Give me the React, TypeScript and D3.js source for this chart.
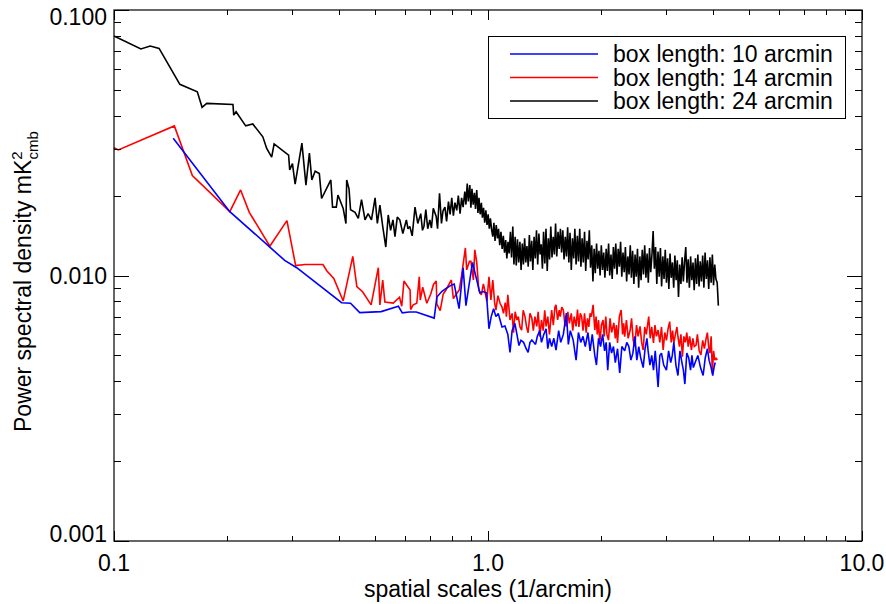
import React from 'react';
import * as d3 from 'd3';

// Axis ticks and labels
const X_MAJOR = [0.1, 1, 10];
const X_LABELS = ['0.1', '1.0', '10.0'];
const Y_MAJOR = [0.001, 0.01, 0.1];
const Y_LABELS = ['0.001', '0.010', '0.100'];

const SERIES_NAMES = ['box length: 10 arcmin', 'box length: 14 arcmin', 'box length: 24 arcmin'];
const SERIES_COLORS = ['#0000ff', '#ff0000', '#000000'];

// Power spectra: [spatial scale (1/arcmin), power (mK^2)]
const BLUE_10: [number, number][] = [
  [0.144, 0.0329], [0.204, 0.0174], [0.261, 0.0128], [0.286, 0.0114], [0.308, 0.0107],
  [0.406, 0.0079], [0.429, 0.00786], [0.454, 0.00725], [0.518, 0.00731], [0.576, 0.00766],
  [0.59, 0.00723], [0.616, 0.00729], [0.643, 0.00729], [0.718, 0.00691], [0.73, 0.0083],
  [0.752, 0.0087], [0.773, 0.00894], [0.798, 0.0092], [0.812, 0.00929], [0.837, 0.0075],
  [0.858, 0.0107], [0.873, 0.0077], [0.909, 0.0112], [0.951, 0.0086], [0.97, 0.0087],
  [0.99, 0.0086], [1.006, 0.0063], [1.02, 0.007], [1.035, 0.0075], [1.05, 0.007],
  [1.065, 0.0072], [1.09, 0.0064], [1.11, 0.00645], [1.13, 0.006], [1.145, 0.00513],
  [1.16, 0.0062], [1.18, 0.0066], [1.195, 0.006], [1.21, 0.00545], [1.225, 0.0057],
  [1.245, 0.0056], [1.265, 0.0053], [1.28, 0.00513], [1.295, 0.0056], [1.31, 0.00571],
  [1.325, 0.0056], [1.34, 0.0055], [1.355, 0.0059], [1.375, 0.0062], [1.39, 0.0056],
  [1.41, 0.006], [1.43, 0.0063], [1.445, 0.0053], [1.46, 0.0058], [1.48, 0.0054],
  [1.5, 0.0058], [1.52, 0.00524], [1.545, 0.0062], [1.565, 0.0056], [1.59, 0.006],
  [1.62, 0.00722], [1.64, 0.0055], [1.66, 0.0062], [1.69, 0.0057], [1.72, 0.0048],
  [1.745, 0.0061], [1.77, 0.0056], [1.795, 0.0059], [1.82, 0.0054], [1.85, 0.0061],
  [1.875, 0.0052], [1.9, 0.006], [1.93, 0.005], [1.95, 0.0046], [1.975, 0.0058],
  [2.0, 0.0054], [2.025, 0.006], [2.05, 0.0052], [2.07, 0.0056], [2.09, 0.0044],
  [2.115, 0.0056], [2.14, 0.0051], [2.165, 0.0054], [2.19, 0.0047], [2.22, 0.0053],
  [2.25, 0.0043], [2.28, 0.0054], [2.32, 0.0052], [2.35, 0.0056], [2.38, 0.0054],
  [2.41, 0.0048], [2.44, 0.0051], [2.47, 0.0059], [2.5, 0.0048], [2.53, 0.0054],
  [2.56, 0.0049], [2.6, 0.0045], [2.63, 0.0053], [2.66, 0.0058], [2.68, 0.0052],
  [2.71, 0.0046], [2.74, 0.005], [2.77, 0.0044], [2.8, 0.0052], [2.85, 0.0038],
  [2.88, 0.005], [2.91, 0.0051], [2.95, 0.0046], [3.0, 0.0044], [3.04, 0.0052],
  [3.08, 0.0047], [3.11, 0.005], [3.14, 0.0056], [3.18, 0.0046], [3.22, 0.0042],
  [3.26, 0.0052], [3.3, 0.0047], [3.33, 0.0044], [3.36, 0.0039], [3.4, 0.0051],
  [3.44, 0.0049], [3.48, 0.0044], [3.51, 0.005], [3.54, 0.0045], [3.58, 0.0047],
  [3.64, 0.005], [3.7, 0.0045], [3.76, 0.0042], [3.81, 0.0049], [3.86, 0.0053],
  [3.9, 0.0048], [3.95, 0.0045], [3.99, 0.0042], [4.02, 0.0045], [4.05, 0.0047],
];

const RED_14: [number, number][] = [
  [0.1, 0.0303], [0.1027, 0.0297], [0.145, 0.0366], [0.162, 0.0238], [0.204, 0.0174],
  [0.218, 0.021], [0.23, 0.0173], [0.261, 0.0129], [0.29, 0.0161], [0.306, 0.0109],
  [0.324, 0.011], [0.362, 0.011], [0.371, 0.0104], [0.387, 0.00975], [0.41, 0.00802],
  [0.435, 0.0118], [0.446, 0.00909], [0.462, 0.00869], [0.487, 0.00775], [0.509, 0.0107],
  [0.514, 0.00775], [0.523, 0.00962], [0.53, 0.00795], [0.558, 0.00787], [0.58, 0.00828],
  [0.588, 0.00766], [0.596, 0.00953], [0.619, 0.00882], [0.621, 0.00744], [0.631, 0.00775],
  [0.645, 0.00786], [0.655, 0.00988], [0.659, 0.00808], [0.669, 0.00903], [0.686, 0.00786],
  [0.703, 0.00852], [0.715, 0.00925], [0.727, 0.00953], [0.73, 0.0078], [0.745, 0.00737],
  [0.759, 0.00852], [0.772, 0.00882], [0.798, 0.00962], [0.808, 0.00818], [0.823, 0.00852],
  [0.838, 0.00882], [0.85, 0.01], [0.87, 0.0127], [0.877, 0.0105], [0.892, 0.0113],
  [0.9, 0.0113], [0.914, 0.00962], [0.922, 0.0125], [0.933, 0.0112], [0.945, 0.00882],
  [0.96, 0.00845], [0.972, 0.0093], [0.98, 0.00882], [0.993, 0.008], [1.006, 0.00988],
  [1.018, 0.00809], [1.03, 0.00962], [1.042, 0.00786], [1.05, 0.00741], [1.063, 0.0084],
  [1.077, 0.00786], [1.09, 0.0076], [1.1, 0.0072], [1.112, 0.0079], [1.12, 0.007],
  [1.13, 0.00845], [1.145, 0.0068], [1.16, 0.0072], [1.17, 0.00609], [1.182, 0.0073],
  [1.195, 0.0068], [1.205, 0.007], [1.218, 0.0064], [1.23, 0.00623], [1.242, 0.0074],
  [1.256, 0.007], [1.268, 0.0064], [1.28, 0.00609], [1.295, 0.0072], [1.31, 0.0069],
  [1.322, 0.0062], [1.335, 0.007], [1.35, 0.00643], [1.362, 0.0073], [1.377, 0.00588],
  [1.39, 0.0068], [1.405, 0.0062], [1.418, 0.0074], [1.43, 0.00643], [1.445, 0.007],
  [1.46, 0.006], [1.48, 0.00741], [1.495, 0.0065], [1.51, 0.0076], [1.52, 0.00775],
  [1.535, 0.0068], [1.55, 0.0074], [1.56, 0.007], [1.575, 0.0076], [1.59, 0.00741],
  [1.605, 0.0066], [1.62, 0.00643], [1.635, 0.0073], [1.65, 0.0066], [1.67, 0.0072],
  [1.685, 0.0062], [1.7, 0.007], [1.72, 0.00643], [1.735, 0.00745], [1.75, 0.0064],
  [1.765, 0.0072], [1.78, 0.007], [1.795, 0.0062], [1.812, 0.0072], [1.83, 0.00609],
  [1.845, 0.0069], [1.86, 0.0064], [1.875, 0.0072], [1.89, 0.007], [1.91, 0.00775],
  [1.93, 0.00623], [1.945, 0.007], [1.96, 0.006], [1.975, 0.0068], [1.99, 0.00557],
  [2.01, 0.0065], [2.03, 0.0068], [2.045, 0.0059], [2.065, 0.007], [2.08, 0.006],
  [2.1, 0.00571], [2.12, 0.0069], [2.14, 0.0061], [2.17, 0.00663], [2.19, 0.0058],
  [2.205, 0.0065], [2.22, 0.00557], [2.245, 0.007], [2.27, 0.00741], [2.29, 0.006],
  [2.305, 0.0066], [2.32, 0.00588], [2.345, 0.0068], [2.37, 0.0058], [2.4, 0.00623],
  [2.42, 0.0069], [2.445, 0.0057], [2.47, 0.0054], [2.495, 0.0065], [2.52, 0.0059],
  [2.55, 0.00643], [2.575, 0.0056], [2.6, 0.00524], [2.625, 0.0064], [2.65, 0.006],
  [2.69, 0.007], [2.715, 0.0058], [2.74, 0.0064], [2.77, 0.00557], [2.795, 0.0065],
  [2.82, 0.0059], [2.85, 0.00623], [2.88, 0.0056], [2.91, 0.0064], [2.94, 0.00524],
  [2.97, 0.0061], [3.0, 0.0057], [3.03, 0.0063], [3.06, 0.0067], [3.09, 0.0056],
  [3.115, 0.0062], [3.14, 0.00557], [3.17, 0.006], [3.2, 0.0064], [3.22, 0.00588],
  [3.25, 0.0054], [3.28, 0.006], [3.31, 0.00495], [3.34, 0.0059], [3.37, 0.0056],
  [3.4, 0.00609], [3.43, 0.0054], [3.46, 0.0059], [3.5, 0.00524], [3.53, 0.0058],
  [3.56, 0.0054], [3.6, 0.00547], [3.63, 0.006], [3.67, 0.0052], [3.71, 0.00502],
  [3.75, 0.0057], [3.79, 0.0053], [3.83, 0.0058], [3.86, 0.00609], [3.89, 0.0054],
  [3.92, 0.0051], [3.95, 0.0059], [3.98, 0.0043], [4.01, 0.0052], [4.04, 0.0048],
  [4.07, 0.0049], [4.1, 0.0048],
];

const BLACK_24: [number, number][] = [
  [0.1, 0.0798], [0.118, 0.0713], [0.125, 0.0732], [0.132, 0.0717], [0.15, 0.0525],
  [0.167, 0.0492], [0.172, 0.043], [0.177, 0.0445], [0.208, 0.0441], [0.209, 0.0402],
  [0.212, 0.0414], [0.225, 0.0366], [0.235, 0.0372], [0.25, 0.0333], [0.256, 0.0301],
  [0.264, 0.0279], [0.268, 0.0313], [0.293, 0.0284], [0.295, 0.025], [0.3, 0.0264],
  [0.305, 0.0221], [0.318, 0.0315], [0.326, 0.0219], [0.333, 0.0289], [0.338, 0.0229],
  [0.345, 0.0247], [0.354, 0.0242], [0.359, 0.0195], [0.374, 0.0219], [0.38, 0.0229],
  [0.384, 0.0181], [0.393, 0.0181], [0.397, 0.0201], [0.41, 0.0179], [0.417, 0.0157],
  [0.419, 0.0229], [0.425, 0.0212], [0.429, 0.0177], [0.441, 0.0173], [0.45, 0.0164],
  [0.459, 0.0193], [0.469, 0.0162], [0.478, 0.0171], [0.488, 0.0162], [0.499, 0.0196],
  [0.506, 0.0157], [0.514, 0.0184], [0.523, 0.0153], [0.533, 0.0128], [0.541, 0.0169],
  [0.549, 0.0148], [0.557, 0.0162], [0.564, 0.014], [0.572, 0.0166], [0.581, 0.0162],
  [0.592, 0.0144], [0.605, 0.0162], [0.611, 0.015], [0.618, 0.0153], [0.627, 0.0141],
  [0.638, 0.0181], [0.649, 0.0157], [0.661, 0.0171], [0.668, 0.0148], [0.674, 0.0153],
  [0.682, 0.0177], [0.69, 0.015], [0.699, 0.0162], [0.706, 0.0151], [0.714, 0.0179],
  [0.727, 0.0167], [0.733, 0.015], [0.742, 0.0204], [0.751, 0.0157], [0.758, 0.0175],
  [0.767, 0.0181], [0.775, 0.016], [0.784, 0.019], [0.792, 0.017], [0.8, 0.0196],
  [0.808, 0.0168], [0.816, 0.0188], [0.825, 0.0176], [0.833, 0.02], [0.842, 0.0171],
  [0.85, 0.0196], [0.858, 0.0181], [0.867, 0.0207], [0.873, 0.0185], [0.88, 0.0222],
  [0.886, 0.019], [0.894, 0.0219], [0.9, 0.018], [0.906, 0.0212], [0.913, 0.0185],
  [0.92, 0.0205], [0.926, 0.0178], [0.933, 0.021], [0.94, 0.0172], [0.946, 0.0196],
  [0.953, 0.017], [0.96, 0.0188], [0.966, 0.0165], [0.973, 0.018], [0.98, 0.0158],
  [0.987, 0.0176], [0.994, 0.0155], [1.001, 0.017], [1.008, 0.015], [1.015, 0.0164],
  [1.023, 0.0148], [1.03, 0.014], [1.037, 0.0158], [1.044, 0.0135], [1.052, 0.0155],
  [1.06, 0.0138], [1.067, 0.015], [1.075, 0.013], [1.083, 0.0146], [1.091, 0.0126],
  [1.099, 0.0141], [1.107, 0.0122], [1.115, 0.0136], [1.123, 0.0116], [1.131, 0.0134],
  [1.139, 0.0121], [1.148, 0.0146], [1.156, 0.0117], [1.165, 0.0153], [1.173, 0.011],
  [1.182, 0.014], [1.19, 0.0109], [1.199, 0.0137], [1.208, 0.0112], [1.217, 0.0134],
  [1.226, 0.0105], [1.235, 0.0132], [1.244, 0.011], [1.253, 0.0138], [1.262, 0.0112],
  [1.271, 0.0129], [1.281, 0.0108], [1.29, 0.0142], [1.299, 0.0113], [1.309, 0.0135],
  [1.318, 0.0105], [1.328, 0.014], [1.338, 0.0116], [1.348, 0.0148], [1.358, 0.011],
  [1.368, 0.0144], [1.378, 0.012], [1.388, 0.0131], [1.398, 0.0106], [1.408, 0.0146],
  [1.419, 0.0111], [1.429, 0.015], [1.44, 0.0104], [1.45, 0.0138], [1.461, 0.0115],
  [1.472, 0.0153], [1.483, 0.0117], [1.494, 0.014], [1.505, 0.012], [1.516, 0.0157],
  [1.527, 0.0118], [1.539, 0.0146], [1.55, 0.0126], [1.562, 0.015], [1.573, 0.0122],
  [1.585, 0.0148], [1.597, 0.0115], [1.609, 0.014], [1.621, 0.0118], [1.633, 0.0152],
  [1.645, 0.0112], [1.657, 0.0145], [1.67, 0.0105], [1.682, 0.0138], [1.695, 0.0116],
  [1.707, 0.015], [1.72, 0.011], [1.733, 0.0141], [1.746, 0.0113], [1.759, 0.015],
  [1.772, 0.0108], [1.785, 0.0138], [1.798, 0.0112], [1.812, 0.0146], [1.825, 0.0104],
  [1.839, 0.0135], [1.852, 0.0115], [1.866, 0.0148], [1.88, 0.0107], [1.894, 0.013],
  [1.908, 0.0095], [1.922, 0.0126], [1.936, 0.0102], [1.951, 0.0132], [1.965, 0.0106],
  [1.98, 0.0124], [1.994, 0.01], [2.009, 0.013], [2.024, 0.0105], [2.039, 0.0122],
  [2.054, 0.0098], [2.07, 0.0126], [2.085, 0.0104], [2.101, 0.0132], [2.116, 0.01],
  [2.132, 0.012], [2.148, 0.0097], [2.164, 0.0128], [2.18, 0.0106], [2.196, 0.0132],
  [2.213, 0.0101], [2.229, 0.0126], [2.246, 0.0108], [2.262, 0.0134], [2.279, 0.0099],
  [2.296, 0.0122], [2.313, 0.0103], [2.33, 0.0128], [2.348, 0.0095], [2.365, 0.0118],
  [2.383, 0.0101], [2.401, 0.013], [2.418, 0.0098], [2.436, 0.0124], [2.455, 0.0093],
  [2.473, 0.012], [2.491, 0.0099], [2.51, 0.0126], [2.528, 0.009], [2.547, 0.0118],
  [2.566, 0.0096], [2.585, 0.0125], [2.605, 0.0101], [2.624, 0.013], [2.644, 0.0098],
  [2.663, 0.0121], [2.683, 0.0094], [2.703, 0.0127], [2.723, 0.0103], [2.744, 0.012],
  [2.764, 0.0147], [2.785, 0.0106], [2.806, 0.0128], [2.827, 0.0093], [2.848, 0.0123],
  [2.869, 0.0099], [2.891, 0.0127], [2.912, 0.0091], [2.934, 0.0118], [2.956, 0.0097],
  [2.978, 0.0125], [3.0, 0.0094], [3.022, 0.0116], [3.045, 0.0089], [3.067, 0.0121],
  [3.09, 0.0098], [3.113, 0.0112], [3.137, 0.009], [3.16, 0.0119], [3.184, 0.0096],
  [3.207, 0.0114], [3.231, 0.0083], [3.255, 0.011], [3.28, 0.0093], [3.304, 0.0117],
  [3.329, 0.0095], [3.354, 0.0113], [3.379, 0.0128], [3.404, 0.0094], [3.429, 0.0115],
  [3.455, 0.009], [3.481, 0.0118], [3.507, 0.0096], [3.533, 0.0112], [3.559, 0.0088],
  [3.586, 0.0116], [3.613, 0.0093], [3.64, 0.012], [3.667, 0.0091], [3.694, 0.0113],
  [3.722, 0.0095], [3.75, 0.0119], [3.778, 0.009], [3.806, 0.0122], [3.834, 0.0097],
  [3.863, 0.0114], [3.892, 0.0089], [3.921, 0.0117], [3.95, 0.0094], [3.98, 0.012],
  [4.009, 0.0092], [4.039, 0.011], [4.069, 0.0097], [4.1, 0.0094], [4.13, 0.0077],
];

const SERIES_DATA = [BLUE_10, RED_14, BLACK_24];

const W = 886;
const H = 604;
const M = { left: 114, right: 862, top: 10, bottom: 541 };
const FONT = '"Liberation Sans", Arial, Helvetica, sans-serif';

export default function App() {
  const x = d3.scaleLog().domain([0.1, 10]).range([M.left, M.right]);
  const y = d3.scaleLog().domain([0.001, 0.1]).range([M.bottom, M.top]);
  const line = d3
    .line<[number, number]>()
    .x((d) => x(d[0]))
    .y((d) => y(d[1]));

  const isMajor = (v: number) => Math.abs(Math.log10(v) - Math.round(Math.log10(v))) < 1e-6;
  const xTicks = x.ticks();
  const yTicks = y.ticks();

  // draw the widest box first so the narrow ones sit on top
  const drawOrder = [2, 1, 0];

  return (
    <svg
      width={W}
      height={H}
      viewBox={`0 0 ${W} ${H}`}
      style={{ position: 'absolute', left: 0, top: 0, background: '#fff' }}
      fontFamily={FONT}
    >
      <rect x={0} y={0} width={W} height={H} fill="#fff" />

      {/* spectra */}
      <g fill="none" strokeWidth={1.6} strokeLinejoin="miter" strokeMiterlimit={2}>
        {drawOrder.map((i) => (
          <path key={i} d={line(SERIES_DATA[i]) || ''} stroke={SERIES_COLORS[i]} />
        ))}
      </g>

      {/* frame */}
      <rect
        x={M.left}
        y={M.top}
        width={M.right - M.left}
        height={M.bottom - M.top}
        fill="none"
        stroke="#000"
        strokeWidth={1.2}
      />

      {/* ticks on all four sides */}
      <g stroke="#000" strokeWidth={1}>
        {xTicks.map((t, i) => {
          const len = isMajor(t) ? 10 : 5;
          const px = Math.round(x(t)) + 0.5;
          return (
            <g key={i}>
              <line x1={px} x2={px} y1={M.bottom} y2={M.bottom - len} />
              <line x1={px} x2={px} y1={M.top} y2={M.top + len} />
            </g>
          );
        })}
        {yTicks.map((t, i) => {
          const len = isMajor(t) ? 15 : 7;
          const py = Math.round(y(t)) + 0.5;
          return (
            <g key={i}>
              <line x1={M.left} x2={M.left + len} y1={py} y2={py} />
              <line x1={M.right} x2={M.right - len} y1={py} y2={py} />
            </g>
          );
        })}
      </g>

      {/* tick labels */}
      <g fontSize={23} fill="#000">
        {X_MAJOR.map((t, i) => (
          <text key={i} x={x(t)} y={571} textAnchor="middle">
            {X_LABELS[i]}
          </text>
        ))}
        {Y_MAJOR.map((t, i) => {
          const cy = Math.min(Math.max(y(t), M.top + 7), M.bottom - 7);
          return (
            <text key={i} x={107} y={cy + 8} textAnchor="end">
              {Y_LABELS[i]}
            </text>
          );
        })}
      </g>

      {/* axis titles */}
      <text x={(M.left + M.right) / 2} y={597} fontSize={23} textAnchor="middle">
        spatial scales (1/arcmin)
      </text>
      <text transform="translate(31,432) rotate(-90)" fontSize={23}>
        Power spectral density mK
        <tspan fontSize={15} dy={-9}>2</tspan>
        <tspan fontSize={15} dx={-8} dy={16}>cmb</tspan>
      </text>

      {/* legend */}
      <rect x={488.5} y={36.5} width={357} height={82} fill="#fff" stroke="#000" strokeWidth={1} />
      {SERIES_NAMES.map((name, i) => {
        const ly = 54 + i * 23.5;
        return (
          <g key={i}>
            <line x1={510} x2={598} y1={ly} y2={ly} stroke={SERIES_COLORS[i]} strokeWidth={1.3} />
            <text x={613} y={ly + 8} fontSize={23}>
              {name}
            </text>
          </g>
        );
      })}
    </svg>
  );
}
